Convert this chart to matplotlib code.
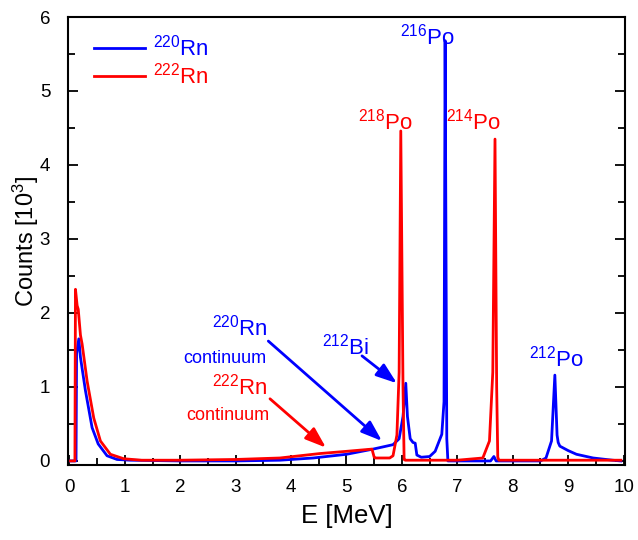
import matplotlib
matplotlib.use("Agg")
import matplotlib.pyplot as plt
from matplotlib.ticker import MultipleLocator

plt.rcParams['font.family'] = ['Liberation Sans', 'DejaVu Sans']
plt.rcParams['mathtext.fontset'] = 'custom'
plt.rcParams['mathtext.rm'] = 'Liberation Sans'
plt.rcParams['mathtext.it'] = 'Liberation Sans'
plt.rcParams['mathtext.default'] = 'regular'

# 220Rn spectrum (counts in 10^3)
rn220_E = [0.0, 0.12, 0.13, 0.17, 0.2, 0.29, 0.41, 0.52, 0.68, 0.86, 1.1, 2.0, 3.0,
           3.8, 4.4, 5.0, 5.48, 5.84, 5.95, 6.02, 6.07, 6.1, 6.15, 6.2, 6.24, 6.27,
           6.35, 6.5, 6.6, 6.72, 6.76, 6.78, 6.81, 6.83, 7.6, 7.66, 7.7, 8.5, 8.6,
           8.7, 8.76, 8.8, 8.82, 8.85, 9.0, 9.15, 9.45, 9.8, 9.95]
rn220_C = [0.0, 0.0, 1.45, 1.65, 1.4, 0.95, 0.45, 0.23, 0.07, 0.02, 0.01, 0.0, 0.0,
           0.01, 0.04, 0.09, 0.16, 0.22, 0.3, 0.6, 1.05, 0.6, 0.3, 0.25, 0.24, 0.08,
           0.05, 0.06, 0.13, 0.36, 0.8, 5.68, 0.3, 0.0, 0.0, 0.06, 0.0, 0.0, 0.04,
           0.27, 1.16, 0.35, 0.25, 0.2, 0.14, 0.09, 0.04, 0.01, 0.0]

# 222Rn spectrum
rn222_E = [0.02, 0.1, 0.11, 0.14, 0.16, 0.2, 0.23, 0.32, 0.44, 0.56, 0.74, 0.98, 1.3,
           2.0, 3.0, 3.8, 4.52, 5.0, 5.46, 5.5, 5.52, 5.78, 5.84, 5.91, 5.95, 5.98,
           6.02, 6.04, 6.06, 7.0, 7.46, 7.58, 7.64, 7.68, 7.71, 7.73, 7.75, 9.95]
rn222_C = [0.0, 0.0, 2.32, 2.1, 2.05, 1.7, 1.58, 1.08, 0.58, 0.27, 0.09, 0.03, 0.01,
           0.01, 0.02, 0.04, 0.1, 0.13, 0.16, 0.05, 0.04, 0.04, 0.07, 0.35, 1.2, 4.46,
           1.0, 0.02, 0.01, 0.01, 0.04, 0.27, 1.2, 4.35, 1.0, 0.05, 0.01, 0.01]

fig = plt.figure(figsize=(6.38, 5.4), dpi=100)
ax = fig.add_axes([0.107, 0.139, 0.873, 0.8295])

ax.plot(rn220_E, rn220_C, color='#0000ff', lw=2.0, label=r'$^{220}$Rn')
ax.plot(rn222_E, rn222_C, color='#ff0000', lw=2.0, label=r'$^{222}$Rn')

ax.set_xlim(-0.02, 10.03)
ax.set_ylim(-0.054, 6)
ax.xaxis.set_major_locator(MultipleLocator(1))
ax.xaxis.set_minor_locator(MultipleLocator(0.5))
ax.yaxis.set_major_locator(MultipleLocator(1))
ax.yaxis.set_minor_locator(MultipleLocator(0.5))
ax.tick_params(which='both', direction='in', right=True, top=False, width=1.3,
               labelsize=13.5)
ax.tick_params(which='major', length=7)
ax.tick_params(which='minor', length=5)
ax.tick_params(axis='y', pad=13)
ax.tick_params(axis='x', pad=10)
for s in ax.spines.values():
    s.set_linewidth(1.5)

ax.set_xlabel('E [MeV]', fontsize=18.5, labelpad=6)
ax.set_ylabel(r'Counts [10$^3$]', fontsize=17, labelpad=-1)

leg = ax.legend(loc='upper left', frameon=False, fontsize=16, handlelength=2.3,
                handletextpad=0.35, labelspacing=0.1,
                bbox_to_anchor=(0.01, 1.005))
for t, c in zip(leg.get_texts(), ['#0000ff', '#ff0000']):
    t.set_color(c)

# peak labels
ax.text(6.47, 5.74, r'$^{216}$Po', color='#0000ff', fontsize=16, ha='center', va='center')
ax.text(5.71, 4.59, r'$^{218}$Po', color='#ff0000', fontsize=16, ha='center', va='center')
ax.text(7.30, 4.59, r'$^{214}$Po', color='#ff0000', fontsize=16, ha='center', va='center')
ax.text(8.79, 1.38, r'$^{212}$Po', color='#0000ff', fontsize=16, ha='center', va='center')

# continuum labels with arrows
arrow = dict(arrowstyle='-|>,head_length=0.9,head_width=0.32', lw=2,
             shrinkA=0, shrinkB=0, mutation_scale=14)
ax.text(3.08, 1.80, r'$^{220}$Rn', color='#0000ff', fontsize=16, ha='center', va='center')
ax.text(2.81, 1.39, 'continuum', color='#0000ff', fontsize=13, ha='center', va='center')
ax.annotate('', xy=(5.64, 0.27), xytext=(3.59, 1.62),
            arrowprops=dict(arrow, color='#0000ff'))
ax.text(3.08, 1.01, r'$^{222}$Rn', color='#ff0000', fontsize=16, ha='center', va='center')
ax.text(2.86, 0.62, 'continuum', color='#ff0000', fontsize=13, ha='center', va='center')
ax.annotate('', xy=(4.63, 0.18), xytext=(3.62, 0.84),
            arrowprops=dict(arrow, color='#ff0000'))
ax.text(4.99, 1.55, r'$^{212}$Bi', color='#0000ff', fontsize=16, ha='center', va='center')
ax.annotate('', xy=(5.91, 1.05), xytext=(5.28, 1.42),
            arrowprops=dict(arrow, color='#0000ff'))

fig.savefig('out.png', dpi=100)
